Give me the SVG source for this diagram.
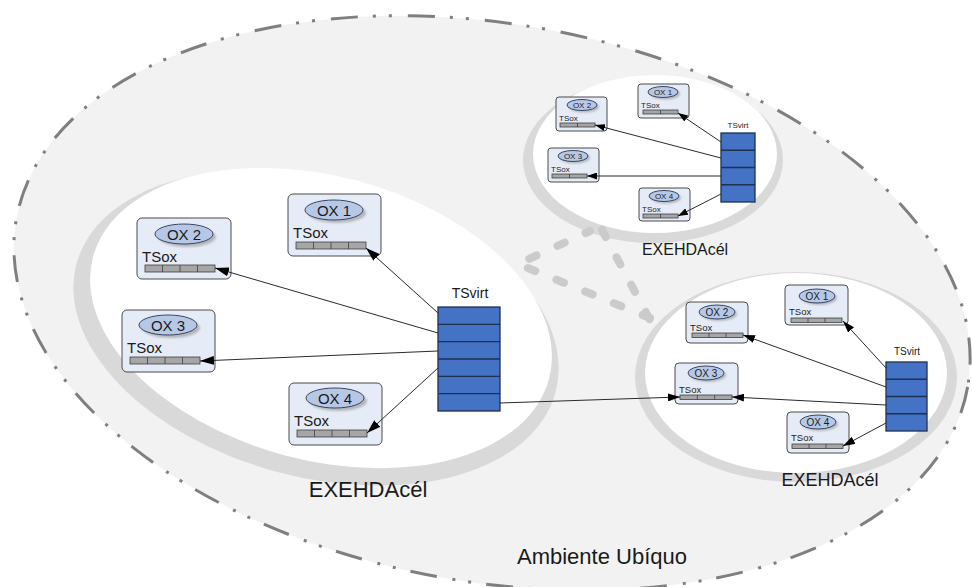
<svg xmlns="http://www.w3.org/2000/svg" width="972" height="587" viewBox="0 0 972 587">
<style>
text{font-family:"Liberation Sans",Arial,sans-serif;fill:#1a1a1a}
.ring{fill:#d9d9d9}
.cell{fill:#ffffff}
.box{fill:#e6ecf7;stroke:#4a4a4a;stroke-width:1}
.ox{fill:#b7c8e6;stroke:#3a4660;stroke-width:1}
.oxsh{fill:#8a8a8a;opacity:0.55}
.bar{fill:#a6a6a6;stroke:#3f3f3f;stroke-width:0.8}
.tsv{fill:#4472c4;stroke:#1f3050;stroke-width:1.3}
.div{stroke:#1f3050;stroke-width:1.3}
.bdiv{stroke:#3f3f3f;stroke-width:0.8}
.con{stroke:#2b2b2b;stroke-width:1;fill:none}
.link{stroke:#cbcbcb;stroke-width:8;fill:none;stroke-linecap:round;stroke-linejoin:round;stroke-dasharray:8 23}
</style>
<defs>
<filter id="blur" x="-20%" y="-40%" width="140%" height="180%"><feGaussianBlur stdDeviation="1.2"/></filter>
<marker id="aL" viewBox="0 0 10 10" refX="10" refY="5" markerUnits="userSpaceOnUse" markerWidth="14" markerHeight="9" orient="auto" preserveAspectRatio="none"><path d="M0,0 L10,5 L0,10 z" fill="#000"/></marker>
<marker id="aM" viewBox="0 0 10 10" refX="10" refY="5" markerUnits="userSpaceOnUse" markerWidth="12" markerHeight="8" orient="auto" preserveAspectRatio="none"><path d="M0,0 L10,5 L0,10 z" fill="#000"/></marker>
<marker id="aS" viewBox="0 0 10 10" refX="10" refY="5" markerUnits="userSpaceOnUse" markerWidth="10" markerHeight="7" orient="auto" preserveAspectRatio="none"><path d="M0,0 L10,5 L0,10 z" fill="#000"/></marker>
</defs>

<g id="ambiente">
<ellipse cx="492" cy="303" rx="483" ry="279" transform="rotate(10 492 303)" fill="#f2f2f2" stroke="#7f7f7f" stroke-width="3" stroke-dasharray="27 15 3 13 3 16"/>
<text x="602" y="564" font-size="22" text-anchor="middle">Ambiente Ubíquo</text>
</g>

<!-- Large cell -->
<g id="cellL">
<ellipse class="ring" cx="316" cy="328" rx="248" ry="149" transform="rotate(15 316 328)"/>
<ellipse class="cell" cx="321" cy="318" rx="236" ry="142" transform="rotate(15 321 318)"/>
<text x="368" y="497" font-size="22" text-anchor="middle">EXEHDAcél</text>
</g>

<!-- Top-right cell -->
<g id="cellT">
<ellipse class="ring" cx="653" cy="160" rx="130" ry="83"/>
<ellipse class="cell" cx="655" cy="154" rx="122" ry="79"/>
<text x="685" y="255" font-size="16" text-anchor="middle">EXEHDAcél</text>
</g>

<!-- Bottom-right cell -->
<g id="cellB">
<ellipse class="ring" cx="796" cy="377" rx="161" ry="105"/>
<ellipse class="cell" cx="796" cy="373" rx="151" ry="100"/>
<text x="830" y="486" font-size="18" text-anchor="middle">EXEHDAcél</text>
</g>

<g id="link">
<path class="link" d="M650 318 L518 264 L590 231"/>
<path class="link" d="M602 230 L650 320"/>
</g>

<g id="L-ox1">
<rect class="box" x="288" y="194" width="93" height="62" rx="5"/>
<ellipse class="oxsh" cx="337" cy="213" rx="29" ry="10" filter="url(#blur)"/>
<ellipse class="ox" cx="334" cy="210" rx="29" ry="10"/>
<text x="334" y="215.5" font-size="15" text-anchor="middle">OX 1</text>
<text x="293" y="238" font-size="15">TSox</text>
<rect class="bar" x="296" y="242" width="70" height="7"/>
<path class="bdiv" d="M313.5 242v7M331 242v7M348.5 242v7"/>
</g>
<g id="L-ox2">
<rect class="box" x="137" y="218" width="94" height="61" rx="5"/>
<ellipse class="oxsh" cx="187" cy="237" rx="29" ry="10" filter="url(#blur)"/>
<ellipse class="ox" cx="184" cy="234" rx="29" ry="10"/>
<text x="184" y="239.5" font-size="15" text-anchor="middle">OX 2</text>
<text x="142" y="262" font-size="15">TSox</text>
<rect class="bar" x="145" y="265" width="70" height="7"/>
<path class="bdiv" d="M162.5 265v7M180 265v7M197.5 265v7"/>
</g>
<g id="L-ox3">
<rect class="box" x="122" y="310" width="93" height="62" rx="5"/>
<ellipse class="oxsh" cx="171" cy="328" rx="29" ry="10" filter="url(#blur)"/>
<ellipse class="ox" cx="168" cy="325" rx="29" ry="10"/>
<text x="168" y="330.5" font-size="15" text-anchor="middle">OX 3</text>
<text x="127" y="353" font-size="15">TSox</text>
<rect class="bar" x="130" y="357" width="70" height="7"/>
<path class="bdiv" d="M147.5 357v7M165 357v7M182.5 357v7"/>
</g>
<g id="L-ox4">
<rect class="box" x="289" y="383" width="93" height="62" rx="5"/>
<ellipse class="oxsh" cx="338" cy="401" rx="29" ry="10" filter="url(#blur)"/>
<ellipse class="ox" cx="335" cy="398" rx="29" ry="10"/>
<text x="335" y="403.5" font-size="15" text-anchor="middle">OX 4</text>
<text x="294" y="426" font-size="15">TSox</text>
<rect class="bar" x="297" y="430" width="70" height="7"/>
<path class="bdiv" d="M314.5 430v7M332 430v7M349.5 430v7"/>
</g>
<g id="L-tsvirt">
<text x="470" y="298" font-size="14" text-anchor="middle">TSvirt</text>
<rect class="tsv" x="438" y="307" width="62" height="104"/>
<path class="div" d="M438 324.3h62M438 341.7h62M438 359h62M438 376.3h62M438 393.7h62"/>
</g>

<g id="T-ox1">
<rect class="box" x="638" y="84" width="51" height="34" rx="3"/>
<ellipse class="oxsh" cx="665" cy="94" rx="15" ry="5.5" filter="url(#blur)"/>
<ellipse class="ox" cx="663" cy="92" rx="15" ry="5.5"/>
<text x="663" y="95" font-size="8" text-anchor="middle">OX 1</text>
<text x="641" y="108" font-size="8">TSox</text>
<rect class="bar" x="643" y="110" width="35" height="4"/>
<path class="bdiv" d="M660.5 110v4"/>
</g>
<g id="T-ox2">
<rect class="box" x="556" y="97" width="51" height="34" rx="3"/>
<ellipse class="oxsh" cx="584" cy="107" rx="15" ry="5.5" filter="url(#blur)"/>
<ellipse class="ox" cx="582" cy="105" rx="15" ry="5.5"/>
<text x="582" y="108" font-size="8" text-anchor="middle">OX 2</text>
<text x="559" y="121" font-size="8">TSox</text>
<rect class="bar" x="560" y="123" width="35" height="4"/>
<path class="bdiv" d="M577.5 123v4"/>
</g>
<g id="T-ox3">
<rect class="box" x="548" y="148" width="51" height="34" rx="3"/>
<ellipse class="oxsh" cx="575" cy="158" rx="15" ry="5.5" filter="url(#blur)"/>
<ellipse class="ox" cx="573" cy="156" rx="15" ry="5.5"/>
<text x="573" y="159" font-size="8" text-anchor="middle">OX 3</text>
<text x="551" y="172" font-size="8">TSox</text>
<rect class="bar" x="552" y="174" width="35" height="4"/>
<path class="bdiv" d="M569.5 174v4"/>
</g>
<g id="T-ox4">
<rect class="box" x="639" y="188" width="51" height="33" rx="3"/>
<ellipse class="oxsh" cx="666" cy="198" rx="15" ry="5.5" filter="url(#blur)"/>
<ellipse class="ox" cx="664" cy="196" rx="15" ry="5.5"/>
<text x="664" y="199" font-size="8" text-anchor="middle">OX 4</text>
<text x="642" y="212" font-size="8">TSox</text>
<rect class="bar" x="643" y="214" width="35" height="4"/>
<path class="bdiv" d="M660.5 214v4"/>
</g>
<g id="T-tsvirt">
<text x="738" y="128" font-size="8" text-anchor="middle">TSvirt</text>
<rect class="tsv" x="721" y="133" width="34" height="69"/>
<path class="div" d="M721 150.25h34M721 167.5h34M721 184.75h34"/>
</g>

<g id="B-ox1">
<rect class="box" x="785" y="285" width="63" height="40" rx="4"/>
<ellipse class="oxsh" cx="819" cy="298" rx="18" ry="7" filter="url(#blur)"/>
<ellipse class="ox" cx="817" cy="296" rx="18" ry="7"/>
<text x="817" y="299.5" font-size="10" text-anchor="middle">OX 1</text>
<text x="789" y="315" font-size="9.5">TSox</text>
<rect class="bar" x="791" y="318" width="51" height="4.5"/>
<path class="bdiv" d="M808 318v4.5M825 318v4.5"/>
</g>
<g id="B-ox2">
<rect class="box" x="686" y="302" width="62" height="41" rx="4"/>
<ellipse class="oxsh" cx="719" cy="314" rx="18" ry="7" filter="url(#blur)"/>
<ellipse class="ox" cx="717" cy="312" rx="18" ry="7"/>
<text x="717" y="315.5" font-size="10" text-anchor="middle">OX 2</text>
<text x="690" y="331" font-size="9.5">TSox</text>
<rect class="bar" x="692" y="333" width="51" height="4.5"/>
<path class="bdiv" d="M709 333v4.5M726 333v4.5"/>
</g>
<g id="B-ox3">
<rect class="box" x="675" y="363" width="63" height="41" rx="4"/>
<ellipse class="oxsh" cx="708" cy="375" rx="18" ry="7" filter="url(#blur)"/>
<ellipse class="ox" cx="706" cy="373" rx="18" ry="7"/>
<text x="706" y="376.5" font-size="10" text-anchor="middle">OX 3</text>
<text x="679" y="393" font-size="9.5">TSox</text>
<rect class="bar" x="680" y="395" width="52" height="4.5"/>
<path class="bdiv" d="M697.3 395v4.5M714.7 395v4.5"/>
</g>
<g id="B-ox4">
<rect class="box" x="787" y="412" width="62" height="41" rx="4"/>
<ellipse class="oxsh" cx="820" cy="424" rx="18" ry="7" filter="url(#blur)"/>
<ellipse class="ox" cx="818" cy="422" rx="18" ry="7"/>
<text x="818" y="425.5" font-size="10" text-anchor="middle">OX 4</text>
<text x="791" y="441" font-size="9.5">TSox</text>
<rect class="bar" x="792" y="444" width="51" height="4.5"/>
<path class="bdiv" d="M809 444v4.5M826 444v4.5"/>
</g>
<g id="B-tsvirt">
<text x="907" y="355" font-size="10" text-anchor="middle">TSvirt</text>
<rect class="tsv" x="886" y="362" width="41" height="69"/>
<path class="div" d="M886 379.25h41M886 396.5h41M886 413.75h41"/>
</g>

<g id="connectors">
<line class="con" x1="438" y1="313" x2="366" y2="248" marker-end="url(#aL)"/>
<line class="con" x1="438" y1="333" x2="215" y2="268" marker-end="url(#aL)"/>
<line class="con" x1="438" y1="351" x2="200" y2="361" marker-end="url(#aL)"/>
<line class="con" x1="438" y1="368" x2="367" y2="433" marker-end="url(#aL)"/>
<line class="con" x1="500" y1="403" x2="680" y2="397" marker-end="url(#aM)"/>
<line class="con" x1="721" y1="142" x2="678" y2="113" marker-end="url(#aS)"/>
<line class="con" x1="721" y1="158" x2="595" y2="125" marker-end="url(#aS)"/>
<line class="con" x1="721" y1="176" x2="587" y2="176" marker-end="url(#aS)"/>
<line class="con" x1="721" y1="194" x2="678" y2="216" marker-end="url(#aS)"/>
<line class="con" x1="886" y1="368" x2="843" y2="321" marker-end="url(#aM)"/>
<line class="con" x1="886" y1="387" x2="743" y2="335" marker-end="url(#aM)"/>
<line class="con" x1="886" y1="405" x2="732" y2="397" marker-end="url(#aM)"/>
<line class="con" x1="886" y1="423" x2="843" y2="446" marker-end="url(#aM)"/>
</g>
</svg>
